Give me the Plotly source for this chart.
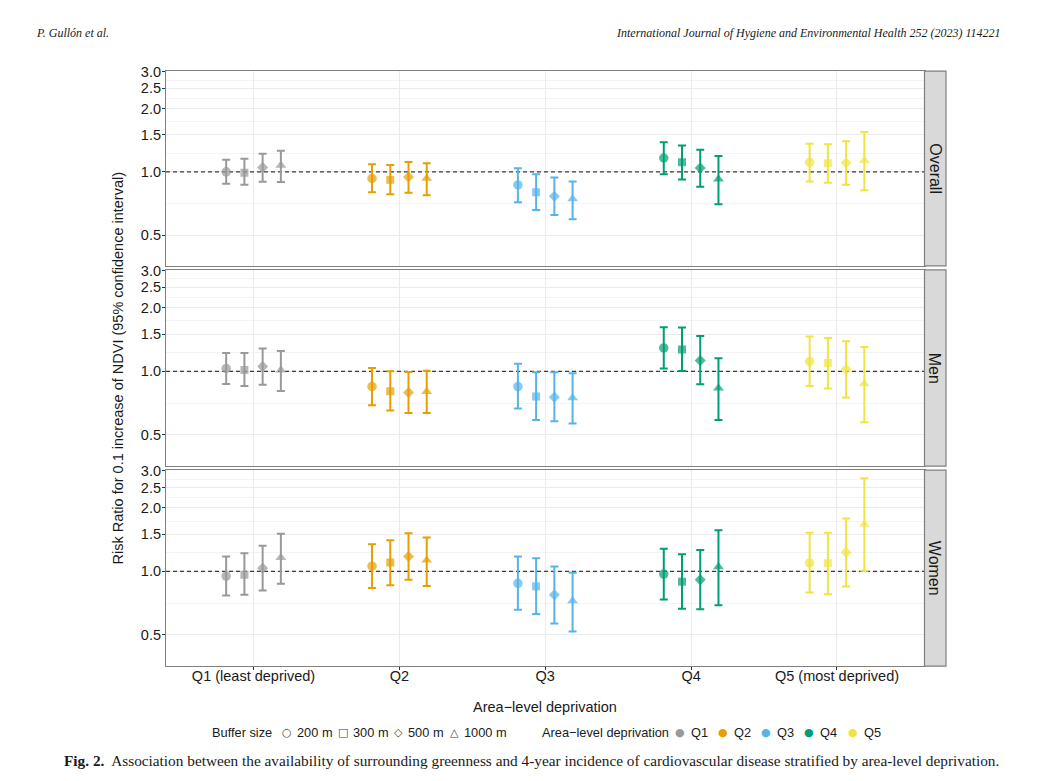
import math
import plotly.graph_objects as go

W, H = 1039, 781

# ---------------- data ----------------
quintile_labels = ["Q1 (least deprived)", "Q2", "Q3", "Q4", "Q5 (most deprived)"]
quintile_keys = ["Q1", "Q2", "Q3", "Q4", "Q5"]
buffers = ["200 m", "300 m", "500 m", "1000 m"]
panels = ["Overall", "Men", "Women"]
y_ticks = [0.5, 1.0, 1.5, 2.0, 2.5, 3.0]
y_tick_text = ["0.5", "1.0", "1.5", "2.0", "2.5", "3.0"]

# rows = quintile Q1..Q5, columns = buffer 200/300/500/1000 m
overall_rr = [[1.00, 0.99, 1.05, 1.075], [0.93, 0.917, 0.944, 0.93], [0.866, 0.80, 0.765, 0.743],
              [1.164, 1.111, 1.044, 0.924], [1.111, 1.099, 1.106, 1.131]]
overall_lo = [[0.878, 0.868, 0.897, 0.894], [0.799, 0.782, 0.796, 0.773], [0.717, 0.657, 0.622, 0.594],
              [0.975, 0.92, 0.85, 0.701], [0.90, 0.887, 0.868, 0.816]]
overall_hi = [[1.143, 1.155, 1.22, 1.26], [1.087, 1.079, 1.115, 1.099], [1.041, 0.975, 0.94, 0.90],
              [1.385, 1.336, 1.274, 1.19], [1.36, 1.355, 1.40, 1.549]]

men_rr = [[1.033, 1.014, 1.055, 1.014], [0.847, 0.806, 0.794, 0.802], [0.847, 0.76, 0.755, 0.75],
          [1.291, 1.268, 1.126, 0.832], [1.114, 1.094, 1.022, 0.872]]
men_lo = [[0.872, 0.853, 0.865, 0.808], [0.692, 0.653, 0.635, 0.635], [0.668, 0.589, 0.58, 0.566],
          [1.033, 1.003, 0.869, 0.589], [0.853, 0.829, 0.752, 0.574]]
men_hi = [[1.223, 1.223, 1.282, 1.249], [1.036, 1.0, 0.993, 1.007], [1.086, 0.989, 0.989, 0.979],
          [1.619, 1.614, 1.469, 1.155], [1.46, 1.438, 1.388, 1.304]]

women_rr = [[0.95, 0.964, 1.036, 1.163], [1.059, 1.102, 1.176, 1.13], [0.878, 0.85, 0.774, 0.725],
            [0.971, 0.894, 0.913, 1.051], [1.097, 1.094, 1.232, 1.672]]
women_lo = [[0.768, 0.774, 0.811, 0.875], [0.835, 0.86, 0.913, 0.853], [0.658, 0.628, 0.566, 0.519],
            [0.736, 0.665, 0.661, 0.692], [0.794, 0.78, 0.847, 1.006]]
women_hi = [[1.176, 1.219, 1.324, 1.507], [1.343, 1.403, 1.517, 1.449], [1.176, 1.155, 1.055, 0.985],
            [1.282, 1.206, 1.263, 1.567], [1.524, 1.524, 1.779, 2.76]]

reference_rr = 1.0

# ---------------- styles ----------------
colors = ["#999999", "#E69F00", "#56B4E9", "#009E73", "#F0E442"]
symbols = ["circle", "square", "diamond", "triangle-up"]
legend_glyphs = ["\u25CB", "\u25A1", "\u25C7", "\u25B3"]
sizes = [9.5, 8, 8.5, 9.5]
dodge = [-0.1875, -0.0625, 0.0625, 0.1875]
SANS = "Liberation Sans, Arial, sans-serif"
SERIF = "Liberation Serif, Times New Roman, serif"
GLYPH = "DejaVu Sans, sans-serif"
TXT = "#1a1a1a"
x_range = [0.4, 5.6]
y_range = [math.log10(0.356), math.log10(3.02)]
panel_px = [(64.7, 261.3), (265.3, 463.3), (467.3, 665.0)]
x_px = (166.0, 924.5)
strip_px = (924.5, 946.0)

def py(p):
    return 1 - p / H

def px(p):
    return p / W

data_sets = [(overall_rr, overall_lo, overall_hi), (men_rr, men_lo, men_hi), (women_rr, women_lo, women_hi)]

fig = go.Figure()
minor_vals = [math.sqrt(a * b) for a, b in zip(y_ticks[:-1], y_ticks[1:])]

for pi, (rr, lo, hi) in enumerate(data_sets):
    xa = "x" if pi == 0 else f"x{pi + 1}"
    ya = "y" if pi == 0 else f"y{pi + 1}"
    fig.add_trace(go.Scatter(x=x_range, y=[reference_rr, reference_rr], mode="lines",
                             line=dict(color="#3a3a3a", width=1.1, dash="4px,3px"),
                             xaxis=xa, yaxis=ya, showlegend=False, hoverinfo="skip"))
    for qi in range(5):
        xs = [qi + 1 + d for d in dodge]
        ys = rr[qi]
        fig.add_trace(go.Scatter(
            x=xs, y=ys, mode="markers", xaxis=xa, yaxis=ya, showlegend=False,
            name=quintile_keys[qi],
            marker=dict(symbol=symbols, size=sizes, color=colors[qi], line=dict(width=0)),
            error_y=dict(type="data", symmetric=False,
                         array=[h - v for h, v in zip(hi[qi], ys)],
                         arrayminus=[v - l for l, v in zip(lo[qi], ys)],
                         color=colors[qi], thickness=2, width=4),
            hoverinfo="skip"))

layout = dict(width=W, height=H, autosize=False, margin=dict(l=0, r=0, t=0, b=0),
              paper_bgcolor="white", plot_bgcolor="white", hovermode=False, showlegend=False,
              font=dict(family=SANS, color=TXT))

for pi in range(3):
    xk = "xaxis" if pi == 0 else f"xaxis{pi + 1}"
    yk = "yaxis" if pi == 0 else f"yaxis{pi + 1}"
    ya = "y" if pi == 0 else f"y{pi + 1}"
    xa = "x" if pi == 0 else f"x{pi + 1}"
    top, bot = panel_px[pi]
    last = pi == 2
    layout[xk] = dict(domain=[px(x_px[0]), px(x_px[1])], anchor=ya, range=x_range,
                      tickmode="array", tickvals=[1, 2, 3, 4, 5], ticktext=quintile_labels,
                      showticklabels=last, ticks="outside" if last else "", ticklen=3,
                      tickcolor="#333333", tickfont=dict(size=14.5, color=TXT),
                      ticklabelstandoff=-7,
                      showgrid=True, gridcolor="#EBEBEB", gridwidth=1, zeroline=False,
                      showline=True, mirror=True, linecolor="#808080", linewidth=1.2)
    layout[yk] = dict(domain=[py(bot), py(top)], anchor=xa, type="log", range=y_range,
                      tickmode="array", tickvals=y_ticks, ticktext=y_tick_text,
                      ticks="outside", ticklen=3, tickcolor="#333333",
                      tickfont=dict(size=14.5, color=TXT), ticklabelstandoff=-2,
                      showgrid=True, gridcolor="#EBEBEB", gridwidth=1, zeroline=False,
                      minor=dict(tickmode="array", tickvals=minor_vals, showgrid=True,
                                 gridcolor="#F3F3F3", gridwidth=0.8, ticklen=0),
                      showline=True, mirror=True, linecolor="#808080", linewidth=1.2)

shapes = []
annotations = []

def ann(text, x, y, size, xanchor="center", family=SANS, color=TXT, angle=0):
    annotations.append(dict(text=text, xref="paper", yref="paper", x=px(x), y=py(y),
                            xanchor=xanchor, yanchor="middle", textangle=angle, showarrow=False,
                            font=dict(family=family, size=size, color=color)))

for pi, name in enumerate(panels):
    top, bot = panel_px[pi]
    shapes.append(dict(type="rect", xref="paper", yref="paper",
                       x0=px(strip_px[0]), x1=px(strip_px[1]), y0=py(bot), y1=py(top),
                       fillcolor="#D9D9D9", line=dict(color="#808080", width=1.2), layer="above"))
    ann(name, (strip_px[0] + strip_px[1]) / 2, (top + bot) / 2, 16, angle=90)

ann("Risk Ratio for 0.1 increase of NDVI (95% confidence interval)", 118, 364.7, 14.5, angle=-90)
ann("Area\u2212level deprivation", 545, 706, 14.5)
ann("<i>P. Gullón et al.</i>", 34, 26, 12, xanchor="left", family=SERIF)
ann("<i>International Journal of Hygiene and Environmental Health 252 (2023) 114221</i>",
    1003, 26, 12, xanchor="right", family=SERIF)
ann("<b>Fig. 2.</b>  Association between the availability of surrounding greenness and "
    "4-year incidence of cardiovascular disease stratified by area-level deprivation.",
    62, 760, 15.3, xanchor="left", family=SERIF)

# legend (drawn as text keys, ggplot-style single row)
LEG_Y = 732
ann("Buffer size", 210, LEG_Y, 12.8, xanchor="left")
buffer_key_x = [287, 343, 398, 454]
for g, b, kx in zip(legend_glyphs, buffers, buffer_key_x):
    ann(g, kx, LEG_Y, 11, family=GLYPH, color="#444444")
    ann(b, kx + 8, LEG_Y, 12.8, xanchor="left")
ann("Area\u2212level deprivation", 540, LEG_Y, 12.8, xanchor="left")
colour_key_x = [680, 723, 766, 809, 853]
for q, c, kx in zip(quintile_keys, colors, colour_key_x):
    ann("\u25CF", kx, LEG_Y, 11, family=GLYPH, color=c)
    ann(q, kx + 9, LEG_Y, 12.8, xanchor="left")

layout["shapes"] = shapes
layout["annotations"] = annotations

fig.update_layout(**layout)
fig.write_html("out.html", config={"displayModeBar": False})
